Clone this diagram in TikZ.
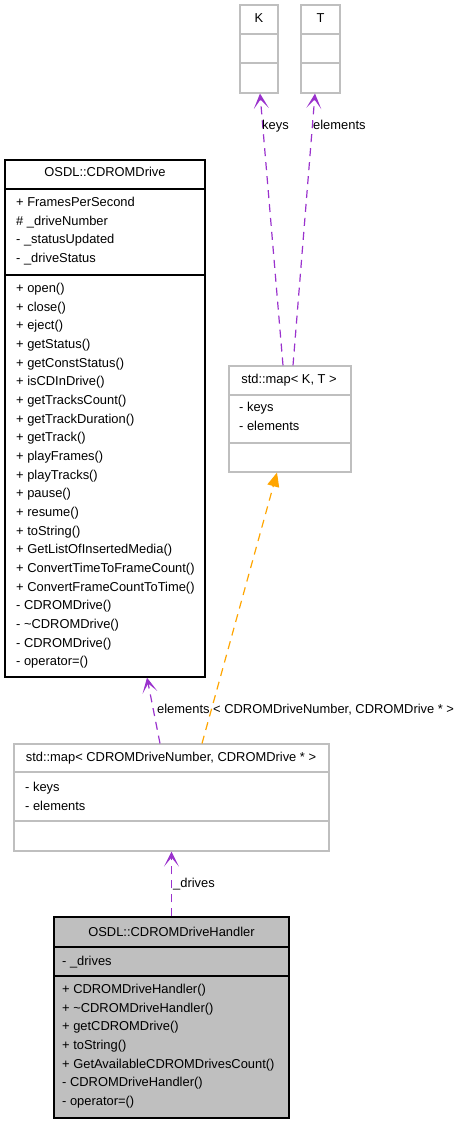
\documentclass[tikz,border=0pt]{standalone}
\usepackage{fontspec}
\setmainfont{Liberation Sans}
\usetikzlibrary{arrows.meta}
\definecolor{usepurple}{HTML}{9A32CD}
\definecolor{instorange}{HTML}{FFA500}
\definecolor{boxgray}{HTML}{BFBFBF}
\begin{document}
\begin{tikzpicture}[x=1pt,y=-1pt,
  classbox/.style={draw=black,line width=1.3pt},
  tplbox/.style={draw=boxgray,line width=1.1pt},
  member/.style={anchor=base west,font=\fontsize{12.9}{15}\selectfont},
  classname/.style={anchor=base,font=\fontsize{12.9}{15}\selectfont},
  uses/.style={draw=usepurple,line width=1.2pt,dash pattern=on 8pt off 6pt,-{Stealth[length=15pt,width=15pt,inset=9pt]}},
  inst/.style={draw=instorange,line width=1.2pt,dash pattern=on 8pt off 6pt,-{Triangle[length=14pt,width=12pt]}}]
\tikzstyle{every node}+=[inner sep=0pt]
\useasboundingbox (0,0) rectangle (461,1123);
% K and T
\node [tplbox,minimum width=38pt,minimum height=88pt] (kbox) at (259,49) {};
\draw [tplbox] (240,34) -- (278,34);
\draw [tplbox] (240,63) -- (278,63);
\node [classname] (kname) at (259,23) {K};
\node [tplbox,minimum width=39pt,minimum height=88pt] (tbox) at (320.5,49) {};
\draw [tplbox] (301,34) -- (340,34);
\draw [tplbox] (301,63) -- (340,63);
\node [classname] (tname) at (320.5,23) {T};
% std::map< K, T >
\node [tplbox,minimum width=122pt,minimum height=106pt] (kvmap) at (290,419) {};
\draw [tplbox] (229,395) -- (351,395);
\draw [tplbox] (229,443) -- (351,443);
\node [classname] (kvname) at (289,383.5) {std::map< K, T >};
\node [member] (kv1) at (239,411.5) {- keys};
\node [member] (kv2) at (239,430.2) {- elements};
% OSDL::CDROMDrive
\node [classbox,minimum width=200pt,minimum height=517pt] (drive) at (105,418.5) {};
\draw [classbox] (5,189) -- (205,189);
\draw [classbox] (5,275) -- (205,275);
\node [classname] (drivename) at (105,177) {OSDL::CDROMDrive};
\node [member] (da1) at (16,206.5) {+ FramesPerSecond};
\node [member] (da2) at (16,225.2) {\# \_driveNumber};
\node [member] (da3) at (16,243.8) {- \_statusUpdated};
\node [member] (da4) at (16,262.5) {- \_driveStatus};
\node [member] (dm1) at (16,292.5) {+ open()};
\node [member] (dm2) at (16,311.2) {+ close()};
\node [member] (dm3) at (16,329.8) {+ eject()};
\node [member] (dm4) at (16,348.5) {+ getStatus()};
\node [member] (dm5) at (16,367.2) {+ getConstStatus()};
\node [member] (dm6) at (16,385.8) {+ isCDInDrive()};
\node [member] (dm7) at (16,404.5) {+ getTracksCount()};
\node [member] (dm8) at (16,423.2) {+ getTrackDuration()};
\node [member] (dm9) at (16,441.9) {+ getTrack()};
\node [member] (dm10) at (16,460.5) {+ playFrames()};
\node [member] (dm11) at (16,479.2) {+ playTracks()};
\node [member] (dm12) at (16,497.9) {+ pause()};
\node [member] (dm13) at (16,516.5) {+ resume()};
\node [member] (dm14) at (16,535.2) {+ toString()};
\node [member] (dm15) at (16,553.9) {+ GetListOfInsertedMedia()};
\node [member] (dm16) at (16,572.5) {+ ConvertTimeToFrameCount()};
\node [member] (dm17) at (16,591.2) {+ ConvertFrameCountToTime()};
\node [member] (dm18) at (16,609.9) {- CDROMDrive()};
\node [member] (dm19) at (16,628.6) {- \textasciitilde CDROMDrive()};
\node [member] (dm20) at (16,647.2) {- CDROMDrive()};
\node [member] (dm21) at (16,665.9) {- operator=()};
% std::map< CDROMDriveNumber, CDROMDrive * >
\node [tplbox,minimum width=315pt,minimum height=107pt] (drivemap) at (171.5,797.5) {};
\draw [tplbox] (14,772) -- (329,772);
\draw [tplbox] (14,821) -- (329,821);
\node [classname] (dmapname) at (171,761.5) {std::map< CDROMDriveNumber, CDROMDrive * >};
\node [member] (dmap1) at (25,791.5) {- keys};
\node [member] (dmap2) at (25,810.2) {- elements};
% OSDL::CDROMDriveHandler
\node [classbox,fill=boxgray,minimum width=235pt,minimum height=201pt] (handler) at (171.5,1017.5) {};
\draw [classbox] (54,947) -- (289,947);
\draw [classbox] (54,976) -- (289,976);
\node [classname] (handlername) at (171.5,936.5) {OSDL::CDROMDriveHandler};
\node [member] (ha1) at (62,965.5) {- \_drives};
\node [member] (hm1) at (62,993.5) {+ CDROMDriveHandler()};
\node [member] (hm2) at (62,1012.2) {+ \textasciitilde CDROMDriveHandler()};
\node [member] (hm3) at (62,1030.8) {+ getCDROMDrive()};
\node [member] (hm4) at (62,1049.5) {+ toString()};
\node [member] (hm5) at (62,1068.2) {+ GetAvailableCDROMDrivesCount()};
\node [member] (hm6) at (62,1086.8) {- CDROMDriveHandler()};
\node [member] (hm7) at (62,1105.5) {- operator=()};
% connectors
\draw [uses] ([xshift=-7pt]kvmap.north) -- ([xshift=1pt]kbox.south);
\node [member] (keyslbl) at (262,129.5) {keys};
\draw [uses] ([xshift=3pt]kvmap.north) -- ([xshift=-5.5pt]tbox.south);
\node [member] (eltslbl) at (313,129.5) {elements};
\draw [inst] ([xshift=30.5pt]drivemap.north) -- ([xshift=-13pt]kvmap.south);
\node [member] (instlbl) at (213,713.5) {< CDROMDriveNumber, CDROMDrive * >};
\draw [uses] ([xshift=-11.5pt]drivemap.north) -- ([xshift=42pt]drive.south);
\node [member] (dmeltlbl) at (157,713.5) {elements};
\draw [uses] (handler.north) -- (drivemap.south);
\node [member] (driveslbl) at (173,887.5) {\_drives};
\end{tikzpicture}
\end{document}
